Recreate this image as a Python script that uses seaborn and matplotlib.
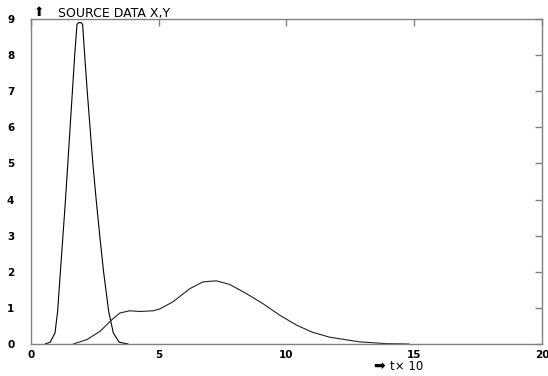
import numpy as np
import matplotlib
matplotlib.use('Agg')
import matplotlib.pyplot as plt
import seaborn as sns

# curve 1 : narrow peak
t1 = [0.55, 0.75, 0.94, 1.04, 1.15, 1.25, 1.35, 1.44, 1.53, 1.62, 1.71, 1.80, 1.86,
      1.96, 2.02, 2.10, 2.20, 2.31, 2.42, 2.55, 2.69, 2.84, 3.04, 3.22, 3.45, 3.80]
y1 = [0.0, 0.05, 0.31, 0.9, 2.0, 3.0, 4.0, 5.0, 6.0, 7.0, 8.0, 8.85, 8.9,
      8.9, 8.85, 8.0, 7.0, 6.0, 5.0, 4.0, 3.0, 2.0, 0.9, 0.31, 0.05, 0.0]

# curve 2 : broad bump
t2 = [1.65, 2.18, 2.70, 3.16, 3.48, 3.87, 4.26, 4.78, 5.04, 5.56, 6.21, 6.73, 7.25,
      7.77, 8.42, 9.07, 9.73, 10.4, 11.0, 11.68, 12.85, 13.9, 14.8]
y2 = [0.0, 0.12, 0.35, 0.67, 0.86, 0.92, 0.90, 0.92, 0.97, 1.17, 1.53, 1.72, 1.75,
      1.65, 1.40, 1.12, 0.80, 0.52, 0.33, 0.19, 0.06, 0.01, 0.0]

xticks = [0, 5, 10, 15, 20]
yticks = list(range(10))

sns.set_style('white')
plt.rcParams['font.family'] = ['DejaVu Sans']

fig = plt.figure(figsize=(5.48, 3.76), dpi=100)
ax = fig.add_axes([0.0566, 0.0851, 0.9324, 0.8644])

sns.lineplot(x=t1, y=y1, ax=ax, color='black', lw=0.8, estimator=None)
sns.lineplot(x=t2, y=y2, ax=ax, color='#222222', lw=0.8, estimator=None)

ax.set_xlim(0, 20)
ax.set_ylim(0, 9)
ax.set_xticks(xticks)
ax.set_yticks(yticks)
ax.tick_params(direction='in', length=5, width=1, color='#808080',
               top=True, right=True, labelsize=7.5, pad=4, labelcolor='black')
ax.tick_params(axis='y', pad=12)
for lab in ax.get_xticklabels() + ax.get_yticklabels():
    lab.set_fontweight('bold')
for s in ax.spines.values():
    s.set_color('#808080')
    s.set_linewidth(1)

fig.text(39 / 548, 1 - 12 / 376, '\u2b06', fontsize=9, ha='center', va='center', color='black')
fig.text(58 / 548, 1 - 13 / 376, 'SOURCE DATA X,Y', fontsize=9, ha='left', va='center', color='black')
fig.text(379 / 548, 1 - 366 / 376, '\u27a1', fontsize=10, ha='center', va='center', color='black')
fig.text(390 / 548, 1 - 366 / 376, 't\u00d7 10', fontsize=8.5, ha='left', va='center', color='black')

fig.savefig('out.png', dpi=100)
